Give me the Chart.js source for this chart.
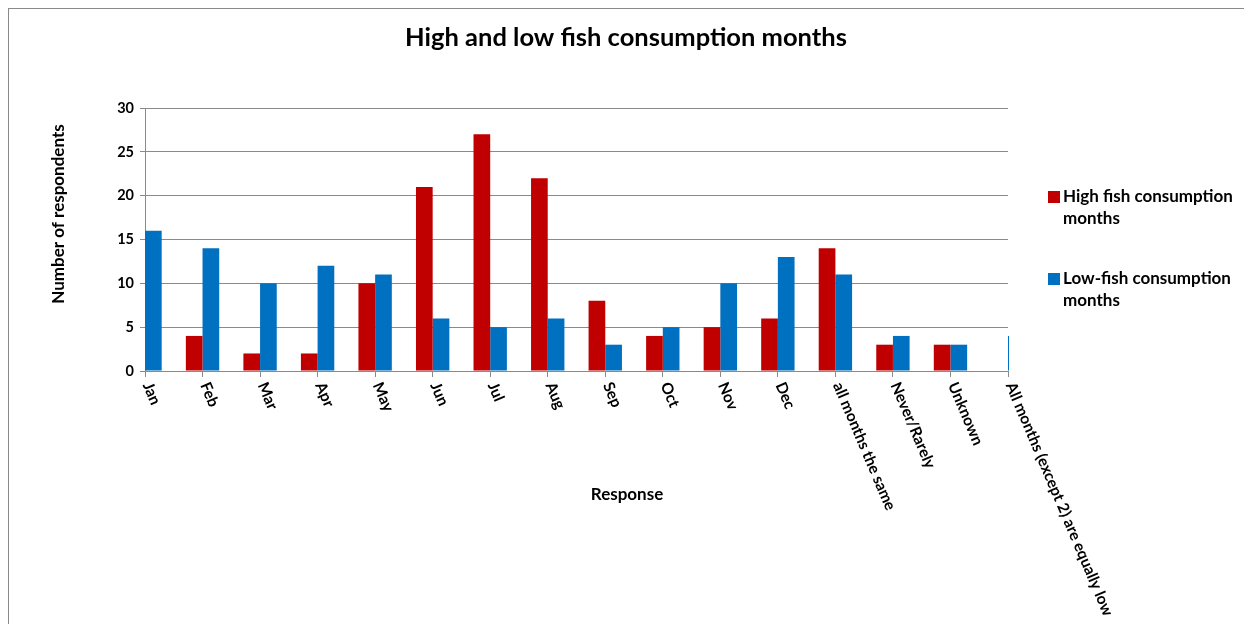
<!DOCTYPE html>
<html><head><meta charset="utf-8">
<script src="https://cdn.jsdelivr.net/npm/chart.js@4.4.0/dist/chart.umd.min.js"></script>
<style>
html,body{margin:0;padding:0;background:#fff;}
#wrap{position:relative;width:1244px;height:624px;overflow:hidden;background:#fff;}
#c{position:absolute;left:0;top:0;}
#frame{position:absolute;left:8px;top:8px;width:1400px;height:800px;border-left:1px solid #8a8a8a;border-top:1px solid #8a8a8a;box-sizing:border-box;pointer-events:none;}
</style></head>
<body><div id="wrap"><canvas id="c" width="1244" height="624"></canvas><div id="frame"></div></div>
<script>
const chartTitle = 'High and low fish consumption months';
const xTitle = 'Response';
const yTitle = 'Number of respondents';
const categories = ['Jan','Feb','Mar','Apr','May','Jun','Jul','Aug','Sep','Oct','Nov','Dec','all months the same','Never/Rarely','Unknown','All months (except 2) are equally low'];
const seriesNames = ['High fish consumption months','Low-fish consumption months'];
const highFish = [0,4,2,2,10,21,27,22,8,4,5,6,14,3,3,0];
const lowFish  = [16,14,10,12,11,6,5,6,3,5,10,13,11,4,3,4];
const yTicks = [0,5,10,15,20,25,30];
const colors = ['#C00000','#0070C0'];

const FONT = 'Lato, "Open Sans", sans-serif';

function wrapText(ctx, text, maxW){
  const words = text.split(' '); const lines = []; let cur = '';
  for (const w of words){
    const t = cur ? cur + ' ' + w : w;
    if (ctx.measureText(t).width > maxW && cur){ lines.push(cur); cur = w; } else cur = t;
  }
  if (cur) lines.push(cur);
  return lines;
}

const deco = {
  id: 'deco',
  afterDraw(chart){
    const ctx = chart.ctx; const ca = chart.chartArea; const xs = chart.scales.x;
    ctx.save();
    ctx.fillStyle = '#000';
    // title
    ctx.font = 'bold 25.5px ' + FONT;
    ctx.textAlign = 'center'; ctx.textBaseline = 'middle';
    ctx.fillText(chartTitle, 626, 38);
    // x title
    ctx.font = 'bold 17px ' + FONT;
    ctx.fillText(xTitle, 627, 495);
    // y title
    ctx.save();
    ctx.translate(59, 214); ctx.rotate(-Math.PI/2);
    ctx.fillText(yTitle, 0, 0);
    ctx.restore();
    // x tick labels (rotated clockwise)
    ctx.font = 'bold 15.5px ' + FONT;
    ctx.textAlign = 'left'; ctx.textBaseline = 'middle';
    const ang = 67 * Math.PI / 180;
    categories.forEach((lab, i) => {
      const px = xs.getPixelForTick(i);
      ctx.save();
      ctx.translate(px + 2, ca.bottom + 12);
      ctx.rotate(ang);
      ctx.fillText(lab, 0, 0);
      ctx.restore();
    });
    // legend
    ctx.font = 'bold 17px ' + FONT;
    ctx.textAlign = 'left'; ctx.textBaseline = 'middle';
    const legTops = [197, 279];
    chart.data.datasets.forEach((ds, i) => {
      const y = legTops[i];
      ctx.fillStyle = ds.backgroundColor;
      ctx.fillRect(1048, y - 6, 12, 12);
      ctx.fillStyle = '#000';
      const lines = wrapText(ctx, ds.label, 178);
      lines.forEach((ln, k) => ctx.fillText(ln, 1063, y + k * 22));
    });
    ctx.restore();
  }
};

new Chart(document.getElementById('c'), {
  type: 'bar',
  data: {
    labels: categories,
    datasets: [
      { label: seriesNames[0], data: highFish, backgroundColor: colors[0], borderWidth: 0, clip: {left: 0, top: false, right: 1, bottom: 0} },
      { label: seriesNames[1], data: lowFish, backgroundColor: colors[1], borderWidth: 0, clip: {left: 0, top: false, right: 1, bottom: 0} }
    ]
  },
  options: {
    responsive: false,
    animation: false,
    devicePixelRatio: 1,
    layout: { padding: { left: 100, right: 236, top: 108, bottom: 203 } },
    datasets: { bar: { barPercentage: 1.0, categoryPercentage: 0.58 } },
    plugins: { legend: { display: false }, title: { display: false }, tooltip: { enabled: false } },
    scales: {
      x: {
        type: 'category',
        offset: false,
        grid: { offset: false, drawOnChartArea: false, drawTicks: true, tickLength: 6, color: '#8a8a8a', lineWidth: 1 },
        border: { color: '#8a8a8a', width: 1 },
        ticks: { display: false },
        afterFit(s){ s.height = 50; }
      },
      y: {
        min: 0, max: 30,
        afterBuildTicks(s){ s.ticks = yTicks.map(v => ({ value: v })); },
        grid: { color: '#8a8a8a', lineWidth: 1, tickLength: 5, drawTicks: true },
        border: { color: '#8a8a8a', width: 1 },
        ticks: { color: '#000', padding: 6, font: { family: FONT, weight: 'bold', size: 14.5 } },
        afterFit(s){ s.width = 45; }
      }
    }
  },
  plugins: [deco]
});
</script>
</body></html>
